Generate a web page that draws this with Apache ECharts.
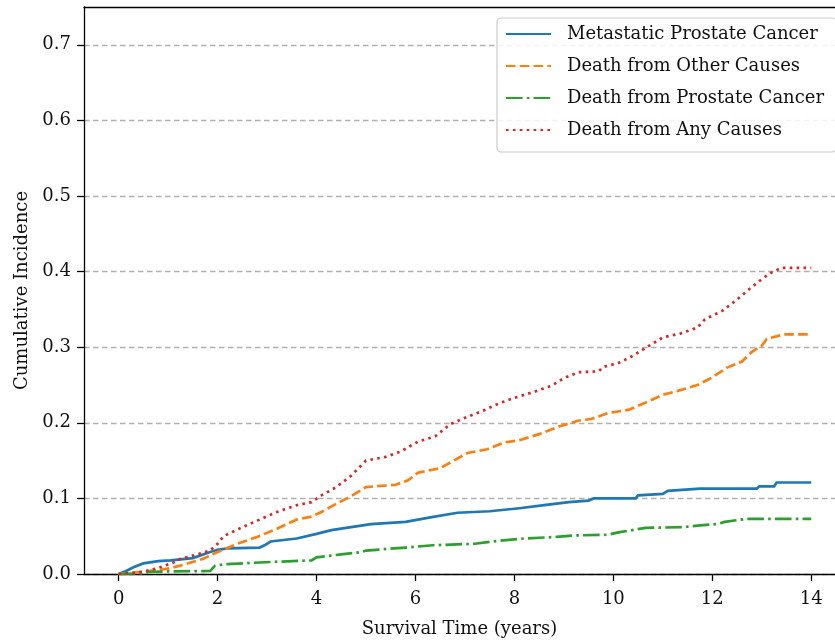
<!DOCTYPE html>
<html>
<head>
<meta charset="utf-8">
<script src="https://cdn.jsdelivr.net/npm/echarts@6/dist/echarts.min.js"></script>
<style>
html,body{margin:0;padding:0;background:#fff;}
#chart{width:835px;height:643px;}
</style>
</head>
<body>
<div id="chart"></div>
<script>
var seriesNames = ["Metastatic Prostate Cancer", "Death from Other Causes", "Death from Prostate Cancer", "Death from Any Causes"];
var xTicks = [0, 2, 4, 6, 8, 10, 12, 14];
var yTicks = [0, 0.1, 0.2, 0.3, 0.4, 0.5, 0.6, 0.7];

var metTimes = [0, 0.15, 0.3, 0.5, 0.8, 1.05, 1.5, 1.85, 2.0, 2.2, 2.85, 2.95, 3.07, 3.6, 4.0, 4.3, 4.9, 5.1, 5.8, 6.3, 6.85, 7.5, 8.1, 8.6, 9.1, 9.5, 9.6, 10.45, 10.5, 11.0, 11.1, 11.75, 12.9, 12.95, 13.25, 13.3, 14.0];
var metValues = [0, 0.004, 0.009, 0.014, 0.017, 0.018, 0.021, 0.029, 0.032, 0.034, 0.035, 0.038, 0.043, 0.047, 0.053, 0.058, 0.064, 0.066, 0.069, 0.075, 0.081, 0.083, 0.087, 0.091, 0.095, 0.097, 0.1, 0.1, 0.104, 0.106, 0.11, 0.113, 0.113, 0.116, 0.116, 0.121, 0.121];

var otherTimes = [0, 0.5, 1.0, 1.3, 1.7, 2.0, 2.4, 2.8, 3.2, 3.6, 3.9, 4.1, 4.4, 4.7, 5.0, 5.6, 5.85, 6.05, 6.5, 6.8, 7.05, 7.45, 7.8, 8.1, 8.5, 8.9, 9.3, 9.55, 9.9, 10.3, 10.7, 11.0, 11.4, 11.7, 12.0, 12.3, 12.6, 12.8, 13.0, 13.1, 13.45, 14.0];
var otherValues = [0, 0.003, 0.007, 0.012, 0.02, 0.029, 0.04, 0.049, 0.06, 0.072, 0.076, 0.082, 0.093, 0.103, 0.115, 0.118, 0.124, 0.134, 0.14, 0.151, 0.16, 0.165, 0.174, 0.177, 0.185, 0.195, 0.203, 0.205, 0.213, 0.217, 0.228, 0.237, 0.244, 0.25, 0.26, 0.273, 0.281, 0.294, 0.302, 0.311, 0.317, 0.317];

var pcTimes = [0, 0.5, 0.6, 1.85, 1.95, 2.15, 3.1, 3.9, 4.0, 4.5, 4.9, 5.0, 5.8, 6.35, 7.2, 7.7, 8.2, 8.85, 9.2, 9.9, 10.1, 10.65, 11.4, 11.7, 12.1, 12.25, 12.7, 14.0];
var pcValues = [0, 0.001, 0.003, 0.004, 0.011, 0.013, 0.016, 0.018, 0.022, 0.026, 0.029, 0.031, 0.035, 0.038, 0.040, 0.044, 0.047, 0.049, 0.051, 0.052, 0.055, 0.061, 0.062, 0.064, 0.066, 0.069, 0.073, 0.073];

var anyTimes = [0, 0.5, 0.8, 1.1, 1.25, 1.6, 1.85, 2.0, 2.12, 2.5, 2.85, 3.2, 3.6, 3.9, 4.1, 4.4, 4.7, 5.0, 5.4, 5.7, 6.05, 6.4, 6.7, 7.05, 7.4, 7.7, 8.0, 8.4, 8.75, 9.0, 9.3, 9.7, 9.8, 10.1, 10.35, 10.7, 11.0, 11.35, 11.7, 11.85, 12.2, 12.5, 12.75, 13.0, 13.2, 13.4, 14.0];
var anyValues = [0, 0.003, 0.008, 0.015, 0.02, 0.026, 0.031, 0.04, 0.05, 0.062, 0.072, 0.082, 0.091, 0.095, 0.104, 0.115, 0.13, 0.15, 0.155, 0.162, 0.175, 0.182, 0.198, 0.208, 0.217, 0.226, 0.233, 0.241, 0.249, 0.259, 0.267, 0.268, 0.274, 0.279, 0.287, 0.301, 0.313, 0.318, 0.326, 0.337, 0.348, 0.363, 0.377, 0.39, 0.399, 0.405, 0.405];

function zip(a, b) { return a.map(function (t, i) { return [t, b[i]]; }); }

var FONT = "DejaVu Serif";
var LW = 2.7;
var X_MIN = -0.7, X_MAX = 14.48;

function mkSeries(name, times, values, color, type) {
  return {
    name: name,
    type: 'line',
    xAxisIndex: 0,
    data: zip(times, values),
    symbol: 'none',
    showSymbol: false,
    silent: true,
    animation: false,
    lineStyle: { color: color, width: LW, type: type, cap: 'butt', join: 'miter' },
    itemStyle: { color: color }
  };
}

var chart = echarts.init(document.getElementById('chart'), null, { renderer: 'canvas' });
chart.setOption({
  animation: false,
  backgroundColor: '#ffffff',
  grid: { left: 84, right: 0, top: 7, bottom: 69, show: false },
  xAxis: [{
    type: 'value', min: X_MIN, max: X_MAX,
    name: 'Survival Time (years)', nameLocation: 'middle', nameGap: 46,
    nameTextStyle: { fontFamily: FONT, fontSize: 18, color: '#111' },
    axisLine: { show: true, onZero: false, lineStyle: { color: '#000', width: 1.3 } },
    axisTick: { show: true, length: 7, lineStyle: { color: '#000', width: 1.3 }, customValues: xTicks },
    axisLabel: { fontFamily: FONT, fontSize: 18, color: '#111', margin: 16, customValues: xTicks, formatter: function (v) { return String(v); } },
    splitLine: { show: false }
  }, {
    type: 'value', min: X_MIN, max: X_MAX, position: 'top',
    axisLine: { show: true, onZero: false, lineStyle: { color: '#000', width: 1.3 } },
    axisTick: { show: false }, axisLabel: { show: false }, splitLine: { show: false }
  }],
  yAxis: {
    type: 'value', min: 0, max: 0.75,
    name: 'Cumulative Incidence', nameLocation: 'middle', nameGap: 53, nameRotate: 90,
    nameTextStyle: { fontFamily: FONT, fontSize: 18, color: '#111' },
    axisLine: { show: true, onZero: false, lineStyle: { color: '#000', width: 1.3 } },
    axisTick: { show: true, length: 7, lineStyle: { color: '#000', width: 1.3 }, customValues: yTicks },
    axisLabel: { fontFamily: FONT, fontSize: 18, color: '#111', margin: 13, customValues: yTicks, formatter: function (v) { return v.toFixed(1); } },
    splitLine: { show: true, lineStyle: { color: '#b0b0b0', width: 1.3, type: [5.5, 3.5] } }
  },
  legend: {
    orient: 'vertical', left: 497, top: 18,
    padding: [6, 12, 12, 8],
    itemWidth: 45, itemHeight: 20, itemGap: 12,
    backgroundColor: 'rgba(255,255,255,0.85)', borderColor: '#cccccc', borderWidth: 1.2, borderRadius: 4,
    itemStyle: { opacity: 0, borderWidth: 0 },
    textStyle: { fontFamily: FONT, fontSize: 18, color: '#111', padding: [0, 0, 0, 11], lineHeight: 20 },
    data: seriesNames,
    selectedMode: false
  },
  series: [
    mkSeries(seriesNames[0], metTimes, metValues, '#1f77b4', 'solid'),
    mkSeries(seriesNames[1], otherTimes, otherValues, '#ff7f0e', [9.6, 4.2]),
    mkSeries(seriesNames[2], pcTimes, pcValues, '#2ca02c', [16.6, 4.2, 2.6, 4.2]),
    mkSeries(seriesNames[3], anyTimes, anyValues, '#d62728', [2.6, 4.3])
  ]
});
</script>
</body>
</html>
